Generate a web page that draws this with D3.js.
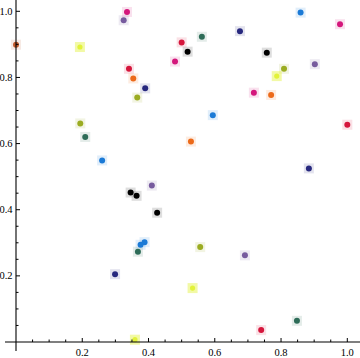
<!DOCTYPE html>
<html><head><meta charset="utf-8">
<script src="https://cdn.jsdelivr.net/npm/d3@7"></script>
<style>html,body{margin:0;padding:0;background:#fff;}svg{display:block;}</style>
</head><body>
<svg id="chart" width="360" height="358"></svg>
<script>
const xValues = [0.000,0.193,0.335,0.325,0.500,0.480,0.341,0.354,0.390,0.366,0.194,0.209,0.260,
  0.859,0.978,0.561,0.676,0.518,0.757,0.809,0.787,0.902,0.718,0.770,0.594,1.000,0.528,0.884,
  0.346,0.364,0.410,0.426,0.376,0.388,0.368,0.299,0.359,0.556,0.691,0.533,0.848,0.740];
const yValues = [0.899,0.892,0.998,0.973,0.906,0.848,0.826,0.797,0.767,0.739,0.661,0.620,0.549,
  0.996,0.961,0.923,0.940,0.878,0.875,0.826,0.804,0.840,0.754,0.747,0.686,0.657,0.606,0.525,
  0.452,0.442,0.473,0.391,0.294,0.302,0.273,0.205,0.007,0.287,0.262,0.163,0.064,0.036];
const groups = ["brown","yellow","magenta","purple","red","magenta","red","orange","indigo","olive","olive","teal","blue",
  "blue","magenta","teal","indigo","black","black","olive","yellow","purple","magenta","orange","blue","red","orange","indigo",
  "black","black","purple","black","blue","blue","teal","indigo","yellow","olive","purple","yellow","teal","red"];
const xTicks = [0.2,0.4,0.6,0.8,1.0];
const yTicks = [0.2,0.4,0.6,0.8,1.0];
const xTickLabels = ["0.2","0.4","0.6","0.8","1.0"];
const yTickLabels = ["0.2","0.4","0.6","0.8","1.0"];

const palette = {
  black:"#000000", magenta:"#d4177c", red:"#d5163c", orange:"#ec6a1a", brown:"#c45a2c",
  indigo:"#27287e", olive:"#9bac22", teal:"#2e6c58", blue:"#1b7ad6", purple:"#775b9e", yellow:"#e2f23a"
};

const svg = d3.select("#chart");
const x = d3.scaleLinear().domain([0,1]).range([16,347.3]);
const y = d3.scaleLinear().domain([0,1]).range([342,11.3]);

// points: halo squares then dots
const g = svg.append("g");
g.selectAll("rect.halo").data(xValues.map((v,i)=>({x:v,y:yValues[i],c:groups[i]})))
  .enter().append("rect").attr("class","halo")
  .attr("x",d=>x(d.x)-5).attr("y",d=>y(d.y)-5).attr("width",10).attr("height",10)
  .attr("fill",d=>palette[d.c]).attr("fill-opacity",d=>d.c==="yellow"?0.45:0.13);
g.selectAll("circle.dot").data(xValues.map((v,i)=>({x:v,y:yValues[i],c:groups[i]})))
  .enter().append("circle").attr("class","dot")
  .attr("cx",d=>x(d.x)).attr("cy",d=>y(d.y)).attr("r",d=>d.c==="yellow"?2.6:3)
  .attr("fill",d=>palette[d.c]);

// axes
const ax = svg.append("g").attr("stroke","#000").attr("fill","none");
ax.append("line").attr("x1",5).attr("x2",360).attr("y1",y(0)).attr("y2",y(0)).attr("stroke-width",1.1);
ax.append("line").attr("x1",x(0)).attr("x2",x(0)).attr("y1",0).attr("y2",351).attr("stroke-width",1.1);

const minorX = d3.range(0.05,1.05,0.05).map(v=>+v.toFixed(2)).filter(v=>!xTicks.some(t=>Math.abs(t-v)<1e-6));
const minorY = minorX;
ax.selectAll("line.xmaj").data(xTicks).enter().append("line")
  .attr("x1",d=>x(d)).attr("x2",d=>x(d)).attr("y1",y(0)).attr("y2",y(0)-4);
ax.selectAll("line.xmin").data(minorX).enter().append("line")
  .attr("x1",d=>x(d)).attr("x2",d=>x(d)).attr("y1",y(0)).attr("y2",y(0)-2.5);
ax.selectAll("line.ymaj").data(yTicks).enter().append("line")
  .attr("y1",d=>y(d)).attr("y2",d=>y(d)).attr("x1",x(0)).attr("x2",x(0)+4);
ax.selectAll("line.ymin").data(minorY).enter().append("line")
  .attr("y1",d=>y(d)).attr("y2",d=>y(d)).attr("x1",x(0)).attr("x2",x(0)+2.5);

const lab = svg.append("g").attr("font-family","'Liberation Serif', 'DejaVu Serif', serif").attr("font-size",10.5).attr("fill","#000");
lab.selectAll("text.xl").data(xTicks).enter().append("text")
  .attr("x",d=>x(d)).attr("y",355.5).attr("text-anchor","middle").text((d,i)=>xTickLabels[i]);
lab.selectAll("text.yl").data(yTicks).enter().append("text")
  .attr("x",12.5).attr("y",d=>y(d)+3.6).attr("text-anchor","end").text((d,i)=>yTickLabels[i]);
</script>
</body></html>
